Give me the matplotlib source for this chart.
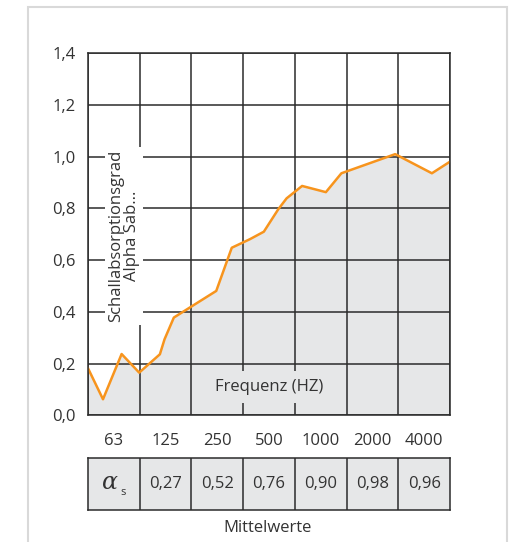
import numpy as np
import matplotlib as mpl
mpl.rcParams['font.family'] = ['Open Sans', 'DejaVu Sans']
import matplotlib.pyplot as plt
from matplotlib.patches import Rectangle

#=============
# Data
#=============
bands = ['63', '125', '250', '500', '1000', '2000', '4000']
# curve position in band units (0 = left edge of the 63 Hz band)
pos = [0.0, 0.29, 0.65, 0.99, 1.39, 1.48, 1.66, 2.48, 2.78, 3.13, 3.40,
       3.68, 3.84, 4.14, 4.60, 4.90, 5.94, 6.65, 7.0]
alpha = [0.182, 0.062, 0.237, 0.165, 0.236, 0.294, 0.378, 0.481, 0.648,
         0.681, 0.710, 0.797, 0.839, 0.887, 0.863, 0.936, 1.010, 0.936, 0.981]
mittel = ['0,27', '0,52', '0,76', '0,90', '0,98', '0,96']
yticks = [0.0, 0.2, 0.4, 0.6, 0.8, 1.0, 1.2, 1.4]

#=============
# Style
#=============
orange = '#f7941d'
fillgray = '#e6e7e8'
gridc = '#2b2b2b'
txtc = '#333333'
fs = 12

W, H = 522, 542
fig = plt.figure(figsize=(W/100, H/100), dpi=100)

# outer frame
fig.patches.append(Rectangle((28/W, -0.05), 479/W, 1.05 - 7/H, transform=fig.transFigure,
                             fill=False, edgecolor='#d9d9d9', lw=1.5))

#------------------------------
# main chart
#------------------------------
ax = fig.add_axes([88/W, 1 - 415.3/H, 362/W, 362/H])
ax.fill_between(pos, alpha, 0, color=fillgray, zorder=1, lw=0)
ax.plot(pos, alpha, color=orange, lw=1.8, zorder=4)

ax.set_xlim(0, 7)
ax.set_ylim(0, 1.4)
ax.set_xticks(np.arange(8))
ax.set_xticks(np.arange(7) + 0.5, minor=True)
ax.set_xticklabels([])
ax.set_xticklabels(bands, minor=True, fontsize=fs, color=txtc)
ax.set_yticks(yticks)
ax.set_yticklabels(['%.1f' % v for v in yticks], fontsize=fs, color=txtc)
ax.yaxis.set_major_formatter(mpl.ticker.FuncFormatter(lambda v, p: ('%.1f' % v).replace('.', ',')))
ax.tick_params(which='both', length=0)
ax.tick_params(axis='x', which='minor', pad=13)
ax.tick_params(axis='y', pad=9)
ax.grid(True, which='major', color=gridc, lw=1.1, zorder=2)
ax.set_axisbelow(False)
for s in ax.spines.values():
    s.set_color(gridc)
    s.set_linewidth(1.1)
    s.set_zorder(5)

ax.text(0.70, 0.694, 'Schallabsorptionsgrad\nAlpha Sab...', rotation=90, ha='center', va='center',
        fontsize=fs, color=txtc, linespacing=1.0, zorder=6,
        bbox=dict(facecolor='white', edgecolor='none', pad=2))
ax.text(3.5, 0.11, 'Frequenz (HZ)', ha='center', va='center', fontsize=fs, color=txtc, zorder=6,
        bbox=dict(facecolor=fillgray, edgecolor='none', pad=6))

#------------------------------
# table of mean values
#------------------------------
tb = fig.add_axes([88/W, 1 - 510/H, 362/W, 51.7/H])
tb.set_xlim(0, 7)
tb.set_ylim(0, 1)
tb.set_facecolor(fillgray)
for k in range(1, 7):
    tb.axvline(k, color=gridc, lw=1.1)
tb.set_xticks([])
tb.set_yticks([])
for s in tb.spines.values():
    s.set_color(gridc)
    s.set_linewidth(1.1)
tb.text(0.42, 0.52, r'$\alpha$', ha='center', va='center', fontsize=17, color=txtc,
        math_fontfamily='dejavuserif')
tb.text(0.68, 0.34, 's', ha='center', va='center', fontsize=8, color=txtc)
for k, v in enumerate(mittel):
    tb.text(k + 1.5, 0.5, v, ha='center', va='center', fontsize=fs, color=txtc)

fig.text(268/W, 1 - 528/H, 'Mittelwerte', ha='center', va='center', fontsize=fs, color=txtc)

fig.savefig('out.png', dpi=100)
